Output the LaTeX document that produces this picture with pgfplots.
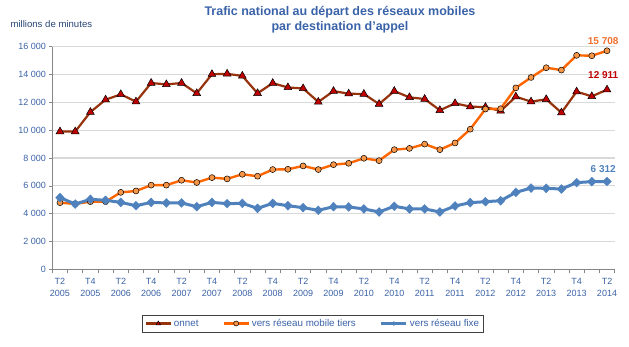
\documentclass[border=0pt]{standalone}
\usepackage{fontspec}
\setmainfont{Liberation Sans}
\usepackage{pgfplots}
\pgfplotsset{compat=1.18}
\definecolor{axblue}{RGB}{58,98,168}
\definecolor{gridgray}{RGB}{217,217,217}
\definecolor{axgray}{RGB}{134,134,134}
\definecolor{onnetline}{RGB}{150,50,12}
\definecolor{onnetmark}{RGB}{192,0,0}
\definecolor{orline}{RGB}{255,102,0}
\definecolor{ormark}{RGB}{247,150,70}
\definecolor{fixe}{RGB}{79,129,189}
\definecolor{orlabel}{RGB}{240,112,48}
\begin{document}
\begin{tikzpicture}
\useasboundingbox (-52.4pt,-76.7pt) rectangle (576.6pt,269.3pt);
\begin{axis}[
  scale only axis,
  width=562.2pt, height=222.6pt,
  xmin=-0.5, xmax=36.5, ymin=0, ymax=16000,
  scaled y ticks=false,
  axis x line*=bottom, axis y line*=left,
  axis line style={axgray, line width=0.8pt, -},
  tick align=outside,
  tick style={axgray, line width=0.6pt},
  xtick={0,2,...,36},
  major x tick style={draw=none},
  minor xtick={-0.5,0.5,...,36.5},
  minor tick length=4pt,
  xticklabels={{T2\\2005},{T4\\2005},{T2\\2006},{T4\\2006},{T2\\2007},{T4\\2007},{T2\\2008},{T4\\2008},{T2\\2009},{T4\\2009},{T2\\2010},{T4\\2010},{T2\\2011},{T4\\2011},{T2\\2012},{T4\\2012},{T2\\2013},{T4\\2013},{T2\\2014}},
  xticklabel style={align=center, font=\fontsize{9}{12}\selectfont, text=axblue, yshift=-2pt},
  ytick={0,2000,...,16000},
  yticklabels={0,2~000,4~000,6~000,8~000,10~000,12~000,14~000,16~000},
  yticklabel style={font=\fontsize{9}{10}\selectfont, text=axblue},
  major tick length=3pt,
  ymajorgrids,
  major grid style={gridgray, line width=1.2pt},
  clip=false,
  legend columns=3,
  legend style={at={(0.4634,-0.2435)}, anchor=center, draw=black!75, line width=0.6pt,
    font=\fontsize{9.8}{11}\selectfont, text=axblue, inner sep=2pt,
    /tikz/every even column/.append style={column sep=22pt}},
  legend image code/.code={\draw[#1, mark repeat=2, mark phase=2] plot coordinates {(0pt,0pt) (12.5pt,0pt) (25pt,0pt)};},
]
\addplot[onnetline, line width=2.2pt, mark=triangle*, mark size=4.5pt,
  mark options={fill=onnetmark, draw=black, line width=0.5pt},
  legend image post style={mark size=2.5pt}]
coordinates {(0,9900)(1,9900)(2,11300)(3,12190)(4,12575)(5,12050)(6,13390)(7,13290)(8,13390)(9,12650)(10,14020)(11,14050)(12,13900)(13,12650)(14,13380)(15,13070)(16,13000)(17,12030)(18,12810)(19,12620)(20,12600)(21,11880)(22,12810)(23,12360)(24,12240)(25,11430)(26,11930)(27,11690)(28,11660)(29,11380)(30,12410)(31,12050)(32,12220)(33,11260)(34,12770)(35,12430)(36,12911)};
\addlegendentry{\strut onnet}
\addplot[orline, line width=2.4pt, mark=*, mark size=3pt,
  mark options={fill=ormark, draw=black, line width=0.5pt},
  legend image post style={mark size=2.5pt}]
coordinates {(0,4790)(1,4700)(2,4860)(3,4860)(4,5530)(5,5630)(6,6050)(7,6050)(8,6400)(9,6240)(10,6590)(11,6500)(12,6830)(13,6690)(14,7170)(15,7190)(16,7430)(17,7170)(18,7520)(19,7620)(20,7980)(21,7810)(22,8600)(23,8690)(24,9000)(25,8600)(26,9080)(27,10070)(28,11520)(29,11540)(30,13040)(31,13790)(32,14490)(33,14320)(34,15380)(35,15350)(36,15708)};
\addlegendentry{\strut vers réseau mobile tiers}
\addplot[fixe, line width=3pt, mark=diamond*, mark size=4.5pt,
  mark options={fill=fixe, draw=fixe, xscale=1.3, line width=0.3pt},
  legend image post style={mark size=2pt}]
coordinates {(0,5150)(1,4690)(2,5030)(3,4960)(4,4810)(5,4570)(6,4810)(7,4770)(8,4770)(9,4500)(10,4810)(11,4720)(12,4740)(13,4380)(14,4740)(15,4570)(16,4430)(17,4240)(18,4500)(19,4480)(20,4340)(21,4120)(22,4530)(23,4340)(24,4340)(25,4120)(26,4550)(27,4790)(28,4860)(29,4930)(30,5530)(31,5840)(32,5820)(33,5770)(34,6230)(35,6300)(36,6312)};
\addlegendentry{\strut vers réseau fixe}
\node[text=orlabel, font=\bfseries\fontsize{10}{12}\selectfont] at (axis cs:35.75,16375) {15~708};
\node[text=onnetmark, font=\bfseries\fontsize{10}{12}\selectfont] at (axis cs:35.75,13930) {12~911};
\node[text=fixe, font=\bfseries\fontsize{10}{12}\selectfont] at (axis cs:35.75,7210) {6~312};
\end{axis}
\node[anchor=west, text=axblue!70!black, font=\fontsize{9.6}{11}\selectfont] at (-45.4pt,245.3pt) {millions de minutes};
\node[align=center, text=axblue, font=\bfseries\fontsize{12.5}{15}\selectfont] at (287.6pt,249.3pt) {Trafic national au départ des réseaux mobiles\\par destination d'appel};
\end{tikzpicture}
\end{document}
